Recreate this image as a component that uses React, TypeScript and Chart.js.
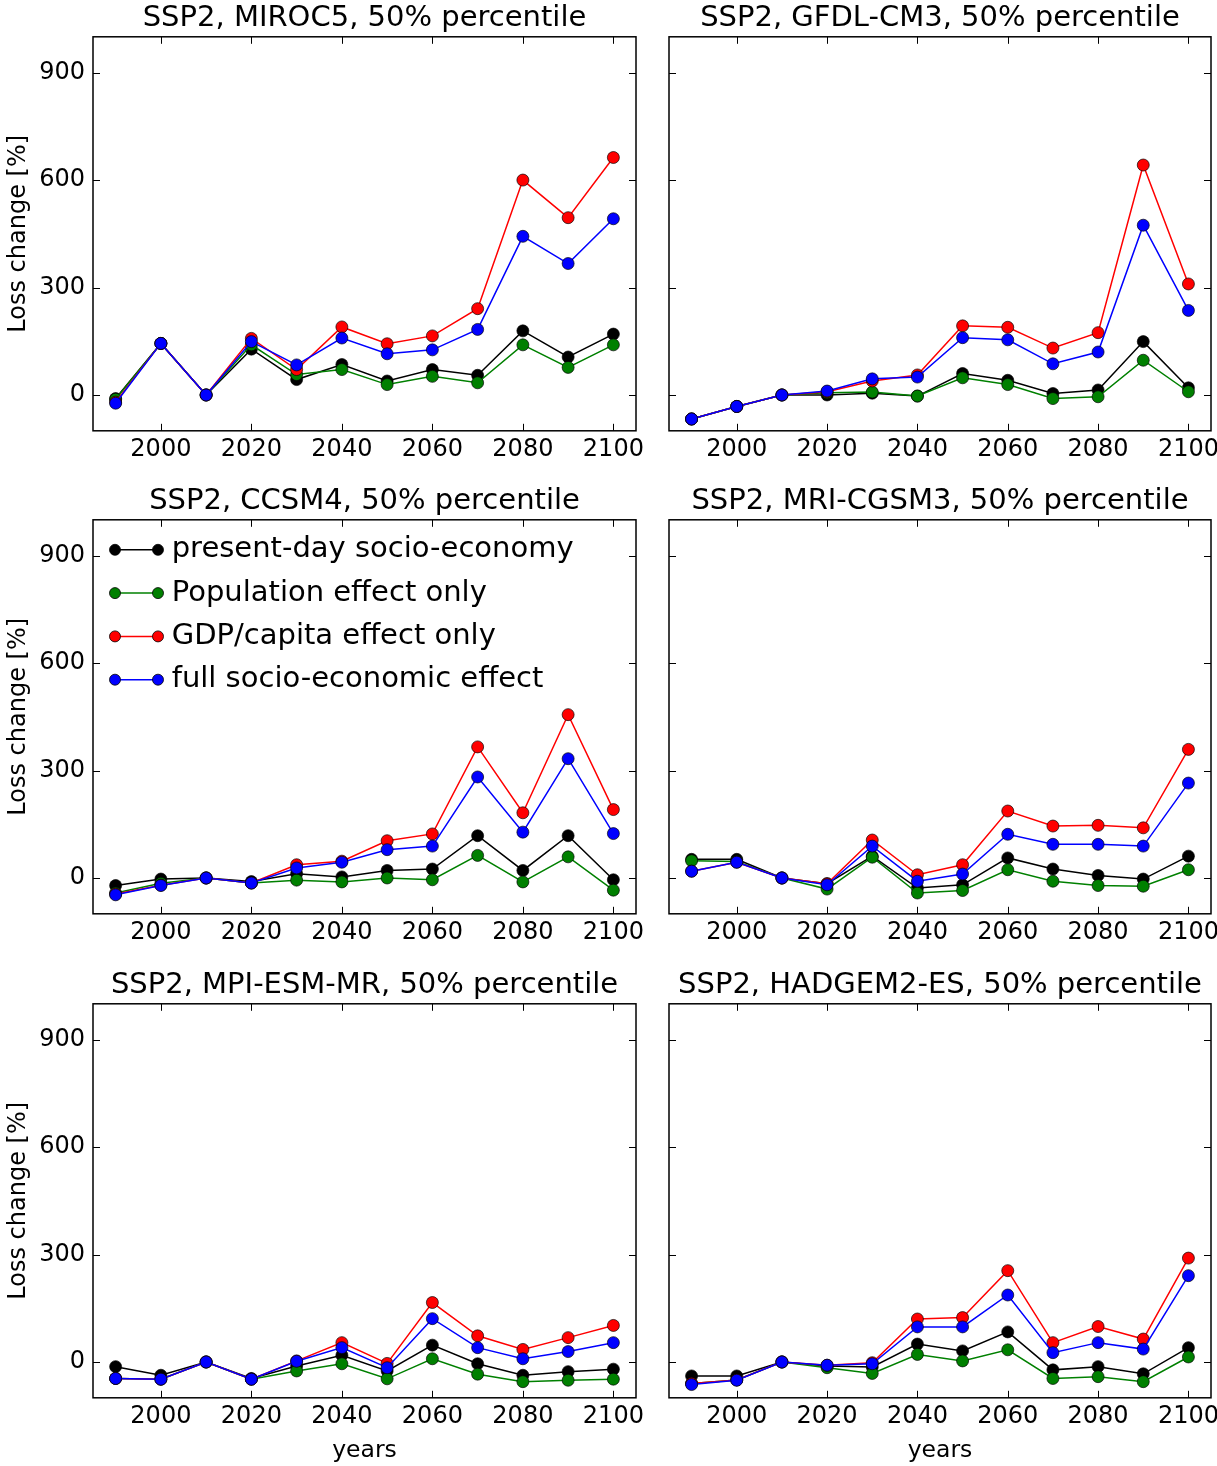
import React, { useEffect, useRef } from 'react';
import { Chart, registerables } from 'chart.js';

Chart.register(...registerables);

// ---- data -------------------------------------------------------------
const years = [1990, 2000, 2010, 2020, 2030, 2040, 2050, 2060, 2070, 2080, 2090, 2100];
const xTickValues = [2000, 2020, 2040, 2060, 2080, 2100];
const yTickValues = [0, 300, 600, 900];

const seriesLabels = [
  'present-day socio-economy',
  'Population effect only',
  'GDP/capita effect only',
  'full socio-economic effect',
];
const seriesColors = ['#000000', '#008000', '#ff0000', '#0000ff'];

// SSP2, MIROC5
const miroc5Present = [-10, 144, 0, 128, 43, 85, 39, 71, 55, 179, 106, 170];
const miroc5Pop = [-12, 144, 0, 140, 57, 71, 29, 52, 34, 140, 77, 140];
const miroc5Gdp = [-20, 144, 0, 158, 71, 190, 143, 165, 241, 600, 495, 663];
const miroc5Full = [-23, 144, 0, 149, 84, 159, 115, 126, 183, 443, 367, 492];

// SSP2, GFDL-CM3
const gfdlPresent = [-67, -32, 0, 0, 5, -3, 60, 41, 4, 14, 149, 20];
const gfdlPop = [-67, -32, 0, 6, 8, -3, 48, 29, -10, -5, 97, 9];
const gfdlGdp = [-67, -32, 0, 9, 39, 56, 193, 189, 131, 174, 642, 310];
const gfdlFull = [-67, -32, 0, 11, 45, 50, 160, 154, 87, 120, 474, 236];

// SSP2, CCSM4
const ccsm4Present = [-21, -3, 0, -10, 12, 3, 21, 25, 118, 21, 118, -5];
const ccsm4Pop = [-42, -15, 0, -14, -6, -11, 0, -5, 63, -11, 59, -34];
const ccsm4Gdp = [-45, -20, 0, -14, 37, 47, 104, 123, 366, 182, 456, 191];
const ccsm4Full = [-47, -21, 0, -14, 28, 44, 79, 89, 282, 128, 333, 124];

// SSP2, MRI-CGSM3
const mriPresent = [52, 52, 0, -16, 61, -28, -19, 56, 25, 7, -3, 61];
const mriPop = [48, 46, 0, -31, 58, -42, -35, 23, -9, -21, -23, 23];
const mriGdp = [19, 44, 0, -16, 106, 9, 37, 187, 145, 147, 140, 359];
const mriFull = [19, 44, 0, -19, 89, -9, 11, 122, 94, 94, 89, 265];

// SSP2, MPI-ESM-MR
const mpiPresent = [-13, -37, 0, -46, -11, 19, -25, 47, -5, -37, -27, -20];
const mpiPop = [-46, -48, 0, -48, -25, -5, -47, 9, -34, -55, -51, -48];
const mpiGdp = [-46, -48, 0, -48, 3, 54, -4, 166, 73, 35, 68, 102];
const mpiFull = [-46, -48, 0, -48, 2, 40, -16, 121, 40, 9, 29, 54];

// SSP2, HADGEM2-ES
const hadgemPresent = [-39, -39, 0, -11, -14, 50, 31, 84, -22, -13, -33, 40];
const hadgemPop = [-60, -50, 0, -16, -32, 21, 3, 34, -46, -41, -55, 14];
const hadgemGdp = [-60, -50, 0, -9, -2, 120, 124, 255, 54, 99, 64, 290];
const hadgemFull = [-63, -51, 0, -9, -5, 98, 98, 187, 26, 54, 36, 241];

type PanelSpec = {
  title: string;
  series: number[][];
  col: number;
  row: number;
  legend?: boolean;
};

const panels: PanelSpec[] = [
  { title: 'SSP2, MIROC5, 50% percentile', series: [miroc5Present, miroc5Pop, miroc5Gdp, miroc5Full], col: 0, row: 0 },
  { title: 'SSP2, GFDL-CM3, 50% percentile', series: [gfdlPresent, gfdlPop, gfdlGdp, gfdlFull], col: 1, row: 0 },
  { title: 'SSP2, CCSM4, 50% percentile', series: [ccsm4Present, ccsm4Pop, ccsm4Gdp, ccsm4Full], col: 0, row: 1, legend: true },
  { title: 'SSP2, MRI-CGSM3, 50% percentile', series: [mriPresent, mriPop, mriGdp, mriFull], col: 1, row: 1 },
  { title: 'SSP2, MPI-ESM-MR, 50% percentile', series: [mpiPresent, mpiPop, mpiGdp, mpiFull], col: 0, row: 2 },
  { title: 'SSP2, HADGEM2-ES, 50% percentile', series: [hadgemPresent, hadgemPop, hadgemGdp, hadgemFull], col: 1, row: 2 },
];

// ---- layout -----------------------------------------------------------
const FONT = "'DejaVu Sans', 'Liberation Sans', sans-serif";
const colLeft = [0, 655];
const colWidth = [660, 580];
const yAxisWidth = [93, 14];
const rowTop = [0, 483, 967];
const rowHeight = [474, 474, 499];
const xAxisHeight = [43.2, 43.2, 68.2];

// frame around the axes plus inward tick marks on all four sides
const framePlugin = {
  id: 'frameTicks',
  afterDatasetsDraw(chart: any) {
    const { ctx, chartArea: a, scales } = chart;
    const xs = scales.x;
    const ys = scales.y;
    const L = 7;
    ctx.save();
    ctx.strokeStyle = '#000';
    ctx.lineWidth = 1;
    ctx.beginPath();
    for (const t of xs.ticks) {
      const px = Math.round(xs.getPixelForValue(t.value)) + 0.5;
      ctx.moveTo(px, a.bottom);
      ctx.lineTo(px, a.bottom - L);
      ctx.moveTo(px, a.top);
      ctx.lineTo(px, a.top + L);
    }
    for (const t of ys.ticks) {
      const py = Math.round(ys.getPixelForValue(t.value)) + 0.5;
      ctx.moveTo(a.left, py);
      ctx.lineTo(a.left + L, py);
      ctx.moveTo(a.right, py);
      ctx.lineTo(a.right - L, py);
    }
    ctx.stroke();
    ctx.lineWidth = 1.5;
    ctx.strokeRect(a.left, a.top, a.right - a.left, a.bottom - a.top);
    ctx.restore();
  },
};

// legend drawn inside the axes, upper left, line with a marker at each end
const insideLegendPlugin = {
  id: 'insideLegend',
  afterDatasetsDraw(chart: any) {
    const { ctx, chartArea: a } = chart;
    ctx.save();
    ctx.font = `29px ${FONT}`;
    ctx.textBaseline = 'middle';
    ctx.textAlign = 'left';
    chart.data.datasets.forEach((ds: any, i: number) => {
      const y = a.top + 30 + i * 43.3;
      const x0 = a.left + 22;
      const x1 = a.left + 65;
      ctx.strokeStyle = ds.borderColor;
      ctx.lineWidth = 1.5;
      ctx.beginPath();
      ctx.moveTo(x0, y);
      ctx.lineTo(x1, y);
      ctx.stroke();
      for (const x of [x0, x1]) {
        ctx.beginPath();
        ctx.arc(x, y, 5.5, 0, Math.PI * 2);
        ctx.fillStyle = ds.pointBackgroundColor;
        ctx.fill();
        ctx.lineWidth = 0.8;
        ctx.strokeStyle = '#000';
        ctx.stroke();
      }
      ctx.fillStyle = '#000';
      ctx.fillText(ds.label, a.left + 78.7, y);
    });
    ctx.restore();
  },
};

function Panel({ spec }: { spec: PanelSpec }) {
  const ref = useRef<HTMLCanvasElement | null>(null);
  const { col, row } = spec;
  const width = colWidth[col];
  const height = rowHeight[row];

  useEffect(() => {
    if (!ref.current) return;
    const showYLabels = col === 0;
    const showXTitle = row === 2;
    const chart = new Chart(ref.current, {
      type: 'line',
      data: {
        datasets: spec.series.map((vals, i) => ({
          label: seriesLabels[i],
          data: years.map((yr, j) => ({ x: yr, y: vals[j] })),
          borderColor: seriesColors[i],
          backgroundColor: seriesColors[i],
          pointBackgroundColor: seriesColors[i],
          pointBorderColor: 'rgba(0,0,0,0.85)',
          pointBorderWidth: 0.8,
          pointRadius: 6,
          borderWidth: 1.5,
          tension: 0,
          fill: false,
          order: seriesLabels.length - i,
        })),
      },
      options: {
        responsive: false,
        animation: false,
        devicePixelRatio: 1,
        events: [],
        layout: { padding: { left: 0, right: width - (col === 0 ? 636 : 1211 - colLeft[1]), top: 0, bottom: 0 } },
        plugins: {
          legend: { display: false },
          tooltip: { enabled: false },
          title: {
            display: true,
            text: spec.title,
            color: '#000',
            fullSize: false,
            font: { family: FONT, size: 29, weight: 'normal', lineHeight: 1.2 },
            padding: { top: 1, bottom: 1 },
          },
        },
        scales: {
          x: {
            type: 'linear',
            min: 1985,
            max: 2105,
            grid: { display: false, drawTicks: false },
            border: { display: false },
            ticks: {
              color: '#000',
              font: { family: FONT, size: 24 },
              padding: 5,
              maxRotation: 0,
              autoSkip: false,
              callback: (v: any) => String(v),
            },
            afterBuildTicks: (s: any) => {
              s.ticks = xTickValues.map((v) => ({ value: v }));
            },
            afterFit: (s: any) => {
              s.height = xAxisHeight[row];
            },
            title: {
              display: showXTitle,
              text: 'years',
              color: '#000',
              font: { family: FONT, size: 23.5, lineHeight: 1.2 },
              padding: { top: 0, bottom: 1 },
            },
          },
          y: {
            type: 'linear',
            min: -100,
            max: 1000,
            grid: { display: false, drawTicks: false },
            border: { display: false },
            ticks: {
              display: showYLabels,
              color: '#000',
              font: { family: FONT, size: 24 },
              padding: 8,
              callback: (v: any) => String(v),
            },
            afterBuildTicks: (s: any) => {
              s.ticks = yTickValues.map((v) => ({ value: v }));
            },
            afterFit: (s: any) => {
              s.width = yAxisWidth[col];
            },
            title: {
              display: showYLabels,
              text: 'Loss change [%]',
              color: '#000',
              font: { family: FONT, size: 24, lineHeight: 1.2 },
              padding: { top: 4, bottom: 0 },
            },
          },
        },
      } as any,
      plugins: spec.legend ? [framePlugin, insideLegendPlugin] : [framePlugin],
    });
    return () => chart.destroy();
  }, [spec, col, row, width, height]);

  return (
    <canvas
      ref={ref}
      width={width}
      height={height}
      style={{ position: 'absolute', left: colLeft[col], top: rowTop[row], width, height }}
    />
  );
}

export default function App() {
  return (
    <div
      style={{
        position: 'absolute',
        left: 0,
        top: 0,
        width: 1217,
        height: 1466,
        overflow: 'hidden',
        background: '#ffffff',
      }}
    >
      {panels.map((p) => (
        <Panel key={p.title} spec={p} />
      ))}
    </div>
  );
}
